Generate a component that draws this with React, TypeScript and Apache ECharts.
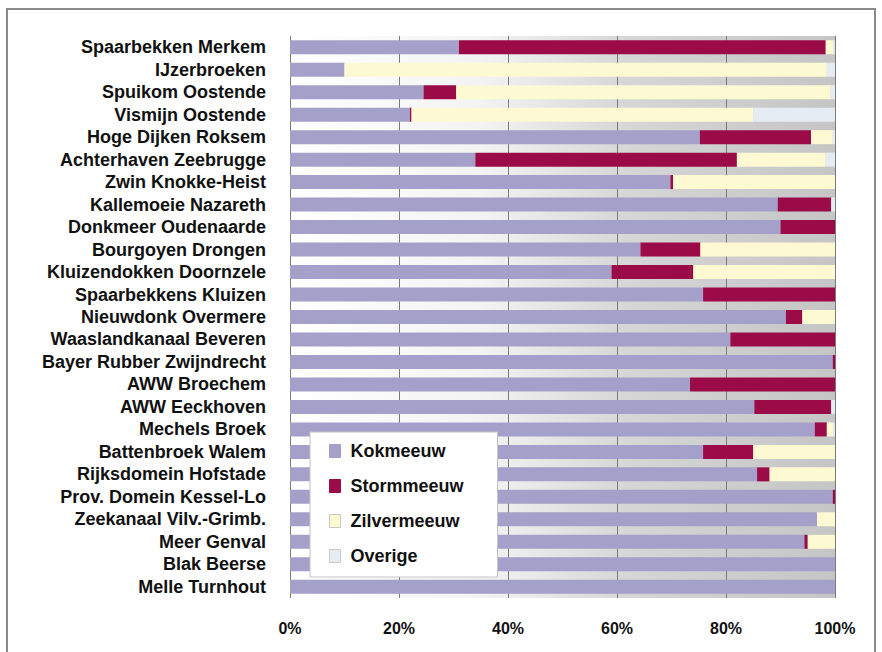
import React, { useEffect, useRef } from "react";
import * as echarts from "echarts";

const categories = [
  "Spaarbekken Merkem",
  "IJzerbroeken",
  "Spuikom Oostende",
  "Vismijn Oostende",
  "Hoge Dijken Roksem",
  "Achterhaven Zeebrugge",
  "Zwin Knokke-Heist",
  "Kallemoeie Nazareth",
  "Donkmeer Oudenaarde",
  "Bourgoyen Drongen",
  "Kluizendokken Doornzele",
  "Spaarbekkens Kluizen",
  "Nieuwdonk Overmere",
  "Waaslandkanaal Beveren",
  "Bayer Rubber Zwijndrecht",
  "AWW Broechem",
  "AWW Eeckhoven",
  "Mechels Broek",
  "Battenbroek Walem",
  "Rijksdomein Hofstade",
  "Prov. Domein Kessel-Lo",
  "Zeekanaal Vilv.-Grimb.",
  "Meer Genval",
  "Blak Beerse",
  "Melle Turnhout",
];

const kokmeeuw = [31, 10, 24.5, 22, 75.2, 34, 69.8, 89.5, 90, 64.3, 59, 75.8, 91, 80.8, 99.6, 73.4, 85.2, 96.3, 75.8, 85.7, 99.6, 96.7, 94.4, 100, 100];
const stormmeeuw = [67.3, 0, 6, 0.3, 20.4, 48, 0.5, 9.8, 10, 11, 15, 24.2, 3, 19.2, 0.4, 26.6, 14.1, 2.2, 9.2, 2.3, 0.4, 0, 0.6, 0, 0];
const zilvermeeuw = [1.4, 88.5, 68.7, 62.7, 4, 16.3, 29.7, 0, 0, 24.7, 26, 0, 6, 0, 0, 0, 0, 1.2, 15, 12, 0, 3.3, 5, 0, 0];
const overige = [0.3, 1.5, 0.8, 15, 0.4, 1.7, 0, 0.7, 0, 0, 0, 0, 0, 0, 0, 0, 0.7, 0.3, 0, 0, 0, 0, 0, 0, 0];

const seriesNames = ["Kokmeeuw", "Stormmeeuw", "Zilvermeeuw", "Overige"];
const seriesColors = ["#a5a0c9", "#9b0b47", "#fdf9d2", "#e5ecf4"];
const xTicks = [0, 20, 40, 60, 80, 100];

const FONT = "'Liberation Sans', Arial, sans-serif";

export default function App() {
  const ref = useRef<HTMLDivElement>(null);

  useEffect(() => {
    document.body.style.margin = "0";
    if (!ref.current) return;
    const chart = echarts.init(ref.current, undefined, { renderer: "svg" });
    const dataSets = [kokmeeuw, stormmeeuw, zilvermeeuw, overige];
    chart.setOption({
      animation: false,
      backgroundColor: "#ffffff",
      graphic: [
        {
          type: "rect",
          shape: { x: 7, y: 9, width: 868, height: 660 },
          style: { fill: "none", stroke: "#8a8a8a", lineWidth: 2 },
          silent: true,
          z: -10,
        },
      ],
      grid: {
        left: 290,
        right: 47,
        top: 36,
        bottom: 54,
        show: true,
        borderWidth: 0,
        backgroundColor: {
          type: "linear",
          x: 0,
          y: 0,
          x2: 1,
          y2: 0,
          colorStops: [
            { offset: 0, color: "#ffffff" },
            { offset: 0.35, color: "#f3f3f3" },
            { offset: 0.62, color: "#d6d6d6" },
            { offset: 1, color: "#c5c5c5" },
          ],
        },
      },
      legend: {
        orient: "vertical",
        left: 310,
        top: 432,
        backgroundColor: "#ffffff",
        borderColor: "#c4c4c4",
        borderWidth: 1,
        padding: [10, 34, 12, 19],
        itemWidth: 11,
        itemHeight: 13,
        itemGap: 17,
        icon: "rect",
        textStyle: {
          fontFamily: FONT,
          fontSize: 18,
          fontWeight: "bold",
          color: "#111111",
          padding: [0, 0, 0, 5],
        },
        data: seriesNames.map((n, i) => ({
          name: n,
          itemStyle: {
            color: seriesColors[i],
            borderColor: i >= 2 ? "#c8c8c8" : seriesColors[i],
            borderWidth: 1,
          },
        })),
      },
      xAxis: {
        type: "value",
        min: 0,
        max: 100,
        interval: 20,
        axisLine: { show: false },
        axisTick: { show: false },
        splitLine: { show: true, lineStyle: { color: "#7a7a7a", width: 1 } },
        axisLabel: {
          formatter: (v: number) => (xTicks.includes(v) ? v + "%" : ""),
          fontFamily: FONT,
          fontSize: 16,
          fontWeight: "bold",
          color: "#111111",
          margin: 22,
        },
      },
      yAxis: {
        type: "category",
        data: categories,
        inverse: true,
        axisLine: { show: false },
        axisTick: { show: false },
        splitLine: { show: false },
        axisLabel: {
          interval: 0,
          fontFamily: FONT,
          fontSize: 18,
          fontWeight: "bold",
          color: "#111111",
          margin: 24,
        },
      },
      series: seriesNames.map((n, i) => ({
        name: n,
        type: "bar",
        stack: "total",
        barWidth: 14,
        data: dataSets[i],
        itemStyle: { color: seriesColors[i] },
      })),
    });
    return () => chart.dispose();
  }, []);

  return <div ref={ref} style={{ width: 882, height: 652 }} />;
}
